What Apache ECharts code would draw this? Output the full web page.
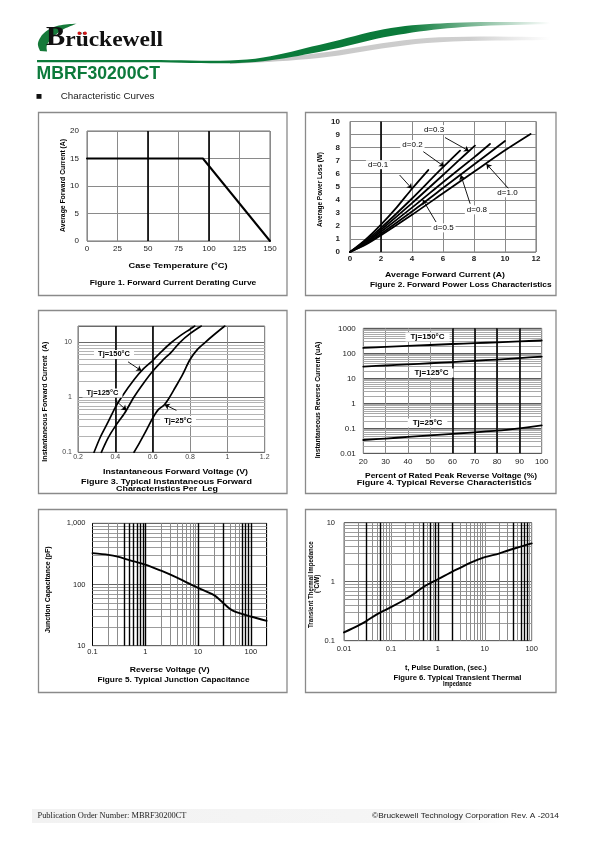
<!DOCTYPE html>
<html><head><meta charset="utf-8">
<script src="https://cdn.jsdelivr.net/npm/echarts@6/dist/echarts.min.js"></script>
<style>html,body{margin:0;padding:0;background:#fff}#c{width:595px;height:842px}</style>
</head><body><div id="c"></div>
<script>
// ================= DATA =================
// Figure 1 - Forward current derating curve
const fig1CaseTemp = [0, 95, 150];
const fig1AvgCurrent = [15, 15, 0];

// Figure 2 - Forward power loss characteristics  [A, W]
const fig2D01 = [[0,0],[1,0.95],[2,2.1],[3,3.4],[4,4.85],[5.05,6.28]];
const fig2D02 = [[0,0],[1,0.85],[2,1.85],[3,2.95],[4,4.1],[5,5.3],[6,6.5],[7.1,7.77]];
const fig2D03 = [[0,0],[1,0.75],[2,1.7],[4,3.75],[6,5.9],[7,7.0],[8.06,8.15]];
const fig2D05 = [[0,0],[1,0.7],[2,1.55],[4,3.4],[6,5.35],[8,7.25],[9.03,8.28]];
const fig2D08 = [[0,0],[1,0.62],[2,1.4],[4,3.1],[6,4.9],[8,6.7],[10,8.5]];
const fig2D10 = [[0,0],[1,0.55],[2,1.28],[4,2.85],[6,4.5],[8,6.15],[10,7.8],[11.65,9.05]];
const fig2LabelNames = ['d=0.1','d=0.2','d=0.3','d=0.5','d=0.8','d=1.0'];

// Figure 3 - Instantaneous forward characteristics [V, A]
const fig3Tj150 = [[0.286,0.1],[0.32,0.19],[0.36,0.35],[0.4,0.66],[0.432,1],[0.5,2.1],[0.55,3.3],[0.6,4.7],[0.65,7],[0.7,10],[0.75,13.5],[0.8,17.5],[0.825,20]];
const fig3Tj125 = [[0.325,0.1],[0.36,0.18],[0.4,0.3],[0.45,0.52],[0.5,1.02],[0.55,1.8],[0.6,3.0],[0.65,4.6],[0.7,6.7],[0.745,10],[0.8,14.5],[0.86,20]];
const fig3Tj25  = [[0.5,0.1],[0.53,0.15],[0.56,0.23],[0.6,0.42],[0.63,0.6],[0.66,0.72],[0.69,1.0],[0.72,1.5],[0.76,2.6],[0.8,4.9],[0.84,7.5],[0.88,10],[0.93,14],[0.986,20]];
const fig3YTickLabels = ['0.1','1','10'];

// Figure 4 - Reverse characteristics [% VRRM, uA]
const fig4Tj150 = [[20,165],[30,180],[40,197],[50,215],[60,235],[70,255],[80,275],[90,300],[100,325]];
const fig4Tj125 = [[20,29.5],[30,32.5],[40,36],[50,40],[60,44.5],[70,50],[80,56],[90,64],[100,74]];
const fig4Tj25  = [[20,0.034],[30,0.039],[40,0.045],[50,0.052],[60,0.06],[70,0.069],[80,0.08],[90,0.1],[100,0.13]];
const fig4YTickLabels = ['0.01','0.1','1','10','100','1000'];

// Figure 5 - Junction capacitance [V, pF]
const fig5Cap = [[0.1,325],[0.2,305],[0.3,285],[0.5,250],[1,211],[2,168],[3,145],[5,118],[10,88],[20,67],[30,50],[40,40],[50,36],[100,30],[200,25.5]];
const fig5XTickLabels = ['0.1','1','10','100'];
const fig5YTickLabels = ['10','100','1,000'];

// Figure 6 - Transient thermal impedance [s, C/W]
const fig6Zth = [[0.01,0.138],[0.02,0.18],[0.03,0.215],[0.05,0.28],[0.1,0.37],[0.2,0.5],[0.3,0.61],[0.5,0.82],[1,1.1],[2,1.47],[3,1.72],[5,2.1],[10,2.6],[20,3.0],[30,3.35],[50,3.8],[80,4.25],[100,4.45]];
const fig6XTickLabels = ['0.01','0.1','1','10','100'];
const fig6YTickLabels = ['0.1','1','10'];

// ================= LAYOUT / STYLE =================
const FONT = '"Liberation Sans", Arial, sans-serif';
const grids = [
  {left:87, top:131, width:183, height:110},
  {left:350, top:121.5, width:186, height:130.5},
  {left:78, top:326, width:186.7, height:126.3},
  {left:363.3, top:328.3, width:178.4, height:125},
  {left:92.5, top:523.3, width:174.2, height:122.4},
  {left:344, top:522.7, width:187.7, height:118}
];

const decadeLabel = (labels, minExp) => v => {
  const e = Math.log10(v), r = Math.round(e);
  if (Math.abs(e - r) > 1e-6) return '';
  const s = labels[r - minExp];
  return s === undefined ? '' : s;
};

function axis(gi, type, min, max, lbl, extra) {
  extra = extra || {};
  const a = {gridIndex: gi, type, min, max,
    axisLine:{show:false}, axisTick:{show:false},
    splitLine:{show:true, lineStyle:{color: extra.split || '#8a8a8a', width:1}},
    minorTick:{show:false}, minorSplitLine:{show:false},
    axisLabel:{interval:0, margin: lbl.margin, fontSize: lbl.size, fontWeight: lbl.weight || 'normal',
      color: lbl.color || '#222', fontFamily: FONT}};
  if (extra.interval) a.interval = extra.interval;
  if (type === 'log') a.logBase = 10;
  if (lbl.formatter) a.axisLabel.formatter = lbl.formatter;
  return a;
}

function minorVals(minExp, maxExp, limit) {
  const out = [];
  for (let e = minExp; e < maxExp; e++) for (let d = 2; d <= 9; d++) {
    const v = d * Math.pow(10, e);
    if (v < limit * 0.999) out.push(v);
  }
  return out;
}
const near = (a, b) => Math.abs(a - b) / Math.abs(b || 1) < 1e-6;

function lineItems(dir, vals, color, width) {
  return vals.map(v => ({[dir]: v, lineStyle:{color, width, type:'solid'}}));
}
function gridLayer(gi, items) {
  return {type:'line', xAxisIndex:gi, yAxisIndex:gi, data:[], silent:true, z:1,
    markLine:{z:1, silent:true, animation:false, symbol:['none','none'], label:{show:false},
      emphasis:{disabled:true}, data: items}};
}
function curve(gi, data, w, smooth) {
  return {type:'line', xAxisIndex:gi, yAxisIndex:gi, data, showSymbol:false, symbol:'none',
    smooth: smooth || false, lineStyle:{color:'#000', width:w, join:'round', cap:'round'}, z:6, silent:true};
}
function notes(gi, labels, arrows, font) {
  const s = {type:'line', xAxisIndex:gi, yAxisIndex:gi, data:[], silent:true, z:10,
    markPoint:{z:10, silent:true, symbol:'rect', symbolSize:1, itemStyle:{color:'rgba(0,0,0,0)'},
      label:{show:true, position:'inside', formatter:'{b}', color:'#000', fontFamily:FONT,
        fontSize:font.size, fontWeight:font.weight, backgroundColor:'#fff', padding:font.pad},
      data: labels.map(l => ({name:l.text, coord:l.at}))}};
  if (arrows && arrows.length) {
    s.markLine = {z:10, silent:true, symbol:['none','arrow'], symbolSize:5, label:{show:false},
      lineStyle:{color:'#000', width:0.9, type:'solid'},
      data: arrows.map(a => [{coord:a.from}, {coord:a.to}])};
  }
  return s;
}

// ---- gridline sets
const g1 = [].concat(lineItems('xAxis',[50,100],'#000',1.6));
const g2 = [].concat(lineItems('xAxis',[2],'#000',1.6));
const g3 = [].concat(lineItems('yAxis',minorVals(-1,2,20),'#b4b4b4',1), lineItems('xAxis',[0.4,0.6],'#000',1.6));
const g4 = [].concat(lineItems('yAxis',minorVals(-2,3,1000),'#a9a9a9',1), lineItems('xAxis',[60,70,80,90],'#000',1.6));
const fig5Bold = [0.4,0.5,0.6,0.7,0.8,0.9,1,10,30,70,80,90,100];
const fig6Bold = [0.03,0.06,0.5,0.7,0.9,1,2,40,60,70,80];
function vGrid(vals, bold, gray) {
  const items = [];
  vals.forEach(v => { if (!bold.some(b => near(v,b))) items.push({xAxis:v, lineStyle:{color:gray,width:1,type:'solid'}}); });
  bold.forEach(b => items.push({xAxis:b, lineStyle:{color:'#000',width:1.4,type:'solid'}}));
  return items;
}
const g5 = [].concat(lineItems('yAxis',minorVals(1,3,1000),'#9c9c9c',1), vGrid(minorVals(-1,3,200),fig5Bold,'#8c8c8c'));
const g6 = [].concat(lineItems('yAxis',minorVals(-1,1,10),'#9c9c9c',1), vGrid(minorVals(-2,2,100),fig6Bold,'#8c8c8c'));

// ---- annotations (data coordinates)
const fig2Notes = [
  {text:fig2LabelNames[0], at:[1.81,6.69]}, {text:fig2LabelNames[1], at:[4.03,8.23]},
  {text:fig2LabelNames[2], at:[5.42,9.38]}, {text:fig2LabelNames[3], at:[6.03,1.85]},
  {text:fig2LabelNames[4], at:[8.19,3.23]}, {text:fig2LabelNames[5], at:[10.16,4.54]}];
const fig2Arrows = [
  {from:[3.2,5.9], to:[4.0,4.85]}, {from:[4.73,7.69], to:[6.08,6.55]},
  {from:[6.13,8.77], to:[7.68,7.74]}, {from:[5.55,2.3], to:[4.7,4.0]},
  {from:[7.75,3.7], to:[7.15,5.9]}, {from:[10.26,4.82], to:[8.8,6.75]}];
const fig3Notes = [{text:'Tj=150°C', at:[0.393,6.07]}, {text:'Tj=125°C', at:[0.331,1.2]}, {text:'Tj=25°C', at:[0.736,0.38]}];
const fig3Arrows = [{from:[0.468,4.45], to:[0.54,3.05]}, {from:[0.40,0.89], to:[0.46,0.58]}, {from:[0.727,0.58], to:[0.664,0.74]}];
const fig4Notes = [{text:'Tj=150°C', at:[48.8,449]}, {text:'Tj=125°C', at:[50.6,16.3]}, {text:'Tj=25°C', at:[48.8,0.163]}];

// ---- text helpers
const mctx = document.createElement('canvas').getContext('2d');
function measure(text, size, weight, family) { mctx.font = weight + ' ' + size + 'px "' + family + '"'; return mctx.measureText(text).width; }
function txt(text, x, y, size, weight, targetW, o) {
  o = o || {};
  const family = o.family || 'Liberation Sans';
  const w = measure(text, size, weight, family);
  return {type:'text', x, y, rotation: o.rot || 0, scaleX: targetW ? targetW / w : 1, silent:true, z:20,
    style:{text, fontSize:size, fontWeight:weight, fontFamily:family, fill:o.color || '#000',
      align:o.align || 'center', verticalAlign:'middle'}};
}
const ROT = Math.PI / 2;

function spline(pts, n) {
  n = n || 10; const out = [];
  for (let i = 0; i < pts.length - 1; i++) {
    const p0 = pts[Math.max(i-1,0)], p1 = pts[i], p2 = pts[i+1], p3 = pts[Math.min(i+2,pts.length-1)];
    for (let k = 0; k < n; k++) {
      const t = k/n, t2 = t*t, t3 = t2*t;
      const f = j => 0.5*((2*p1[j]) + (-p0[j]+p2[j])*t + (2*p0[j]-5*p1[j]+4*p2[j]-p3[j])*t2 + (-p0[j]+3*p1[j]-3*p2[j]+p3[j])*t3);
      out.push([f(0), f(1)]);
    }
  }
  out.push(pts[pts.length-1]);
  return out;
}
const LG = echarts.graphic.LinearGradient;

// ---- header / footer
const greenUpper = [[37,60],[150,60],[247,59.5],[319,45],[391,28],[463,22.5],[550,22]];
const greenLower = [[550,24],[463,27],[391,36],[319,52],[247,62.5],[150,62.3],[37,62.3]];
const grayUpper = [[230,62.5],[319,53],[427,38],[550,37]];
const grayLower = [[550,40],[427,43],[319,58],[230,64]];
const leafOuter = [[40,51],[38,43],[44,33],[57,26],[77,23.5]];
const leafInner = [[77,23.5],[63,29.5],[53,37],[47,45],[47,51.5]];

const SERIF = 'Liberation Serif';
const wB = measure('B',27,'bold',SERIF), wRest = measure('rückewell',22,'bold',SERIF);
const brandSX = 117 / (wB + wRest);
const uCenter = 46 + brandSX * (wB + measure('r',22,'bold',SERIF) + measure('u',22,'bold',SERIF)/2);

const rightFoot = '©Bruckewell Technology Corporation Rev. A -2014';

const elements = [
  {type:'polygon', silent:true, z:2, shape:{points: spline(greenUpper).concat(spline(greenLower))},
    style:{fill: new LG(37,0,550,0,[{offset:0,color:'#0b7a3a'},{offset:0.72,color:'#0b7a3a'},{offset:1,color:'rgba(11,122,58,0)'}],true)}},
  {type:'polygon', silent:true, z:1, shape:{points: spline(grayUpper).concat(spline(grayLower))},
    style:{fill: new LG(230,0,550,0,[{offset:0,color:'#c6c6c6'},{offset:0.75,color:'#cfcfcf'},{offset:1,color:'rgba(210,210,210,0)'}],true)}},
  {type:'polygon', silent:true, z:2, shape:{points: spline(leafOuter).concat(spline(leafInner))}, style:{fill:'#167a3a'}},
  {type:'text', x:46, y:51.5, scaleX:brandSX, silent:true, z:3,
    style:{text:'{a|B}{b|rückewell}', align:'left', verticalAlign:'bottom',
      rich:{a:{fontSize:27, fontWeight:'bold', fontFamily:SERIF, fill:'#111', verticalAlign:'bottom', lineHeight:27},
            b:{fontSize:22, fontWeight:'bold', fontFamily:SERIF, fill:'#111', verticalAlign:'bottom', lineHeight:22}}}},
  {type:'circle', silent:true, z:4, shape:{cx:uCenter-2.9, cy:33.3, r:1.8}, style:{fill:'#d01818'}},
  {type:'circle', silent:true, z:4, shape:{cx:uCenter+2.9, cy:33.3, r:1.8}, style:{fill:'#d01818'}},
  txt('MBRF30200CT', 36.5, 74.2, 17.5, 'bold', 123.5, {align:'left', color:'#0c7a3b'}),
  {type:'rect', silent:true, shape:{x:36.5, y:94, width:5, height:4.8}, style:{fill:'#111'}},
  txt('Characteristic Curves', 60.7, 96.4, 9.5, 'normal', 93.8, {align:'left', color:'#222'}),
  // footer
  {type:'rect', silent:true, z:0, shape:{x:32, y:809, width:500, height:14},
    style:{fill: new LG(32,0,532,0,[{offset:0,color:'#f2f2f2'},{offset:0.85,color:'#f6f6f6'},{offset:1,color:'rgba(255,255,255,0)'}],true)}},
  txt('Publication Order Number: MBRF30200CT', 37.5, 816, 8, 'normal', 149, {align:'left', family:SERIF, color:'#222'}),
  txt(rightFoot, 372, 816, 7.4, 'normal', 187, {align:'left', color:'#222'})
];

// panels
[[38.5,112.5],[305.5,112.5],[38.5,310.5],[305.5,310.5],[38.5,509.5],[305.5,509.5]].forEach((p,i) => {
  elements.push({type:'rect', silent:true, z:0, shape:{x:p[0], y:p[1], width: i%2 ? 250.5 : 248.5, height:183},
    style:{fill:'none', stroke:'#8a8a8a', lineWidth:1.3}});
});

// chart titles & captions
elements.push(
  txt('Case Temperature (°C)', 178, 265.3, 8, 'bold', 99),
  txt('Figure 1. Forward Current Derating Curve', 173, 282.7, 7.5, 'bold', 166.6),
  txt('Average Forward Current (A)', 63, 185.5, 7.5, 'bold', 93, {rot:ROT}),

  txt('Average Forward Current (A)', 445, 274.7, 8, 'bold', 120),
  txt('Figure 2. Forward Power Loss Characteristics', 460.8, 285.3, 7.5, 'bold', 181.7),
  txt('Average Power Loss (W)', 320, 189.5, 7.5, 'bold', 75, {rot:ROT}),

  txt('Instantaneous Forward Voltage (V)', 175.5, 471.7, 8, 'bold', 145),
  txt('Figure 3. Typical Instantaneous Forward', 166.5, 481.7, 7.5, 'bold', 171),
  txt('Characteristics Per  Leg', 167, 489, 7.5, 'bold', 102),
  txt('Instantaneous Forward Current  (A)', 45.3, 401.7, 7.5, 'bold', 120, {rot:ROT}),

  txt('Percent of Rated Peak Reverse Voltage (%)', 451, 475.7, 8, 'bold', 172),
  txt('Figure 4. Typical Reverse Characteristics', 444.2, 483.3, 7.5, 'bold', 175),
  txt('Instantaneous Reverse Current (uA)', 318, 400, 7.5, 'bold', 116.7, {rot:ROT}),

  txt('Reverse Voltage (V)', 169.7, 669.7, 8, 'bold', 80),
  txt('Figure 5. Typical Junction Capacitance', 173.5, 680.3, 7.5, 'bold', 152),
  txt('Junction Capacitance (pF)', 48, 589.7, 7.5, 'bold', 86.7, {rot:ROT}),

  txt('t, Pulse Duration, (sec.)', 445.8, 667.3, 8, 'bold', 81.7),
  txt('Figure 6. Typical Transient Thermal', 457.5, 678.2, 7, 'bold', 128),
  txt('Impedance', 457.3, 684.3, 7, 'bold', 28.7),
  txt('Transient Thermal Impedance', 311, 584.7, 6.5, 'bold', 86.7, {rot:ROT}),
  txt('(°C/W)', 317.7, 583.8, 6.5, 'bold', 18.3, {rot:ROT})
);

// ================= OPTION =================
const zip = (a, b) => a.map((v, i) => [v, b[i]]);
const option = {
  animation:false,
  backgroundColor:'#fff',
  grid: grids.map(g => Object.assign({show:true, borderColor:'#707070', borderWidth:1,
    backgroundColor:'rgba(0,0,0,0)', containLabel:false, outerBoundsMode:'none'}, g)),
  xAxis: [
    axis(0,'value',0,150,{size:8,margin:4},{interval:25}),
    axis(1,'value',0,12,{size:8,margin:3,weight:'bold'},{interval:2}),
    axis(2,'value',0.2,1.2,{size:7,margin:1.5,color:'#444'},{interval:0.2}),
    axis(3,'value',20,100,{size:8,margin:4.5},{interval:10}),
    axis(4,'log',0.1,200,{size:7.5,margin:2,formatter:decadeLabel(fig5XTickLabels,-1)},{split:'#000'}),
    axis(5,'log',0.01,100,{size:7.5,margin:4,formatter:decadeLabel(fig6XTickLabels,-2)},{split:'#8c8c8c'})
  ],
  yAxis: [
    axis(0,'value',0,20,{size:8,margin:8},{interval:5}),
    axis(1,'value',0,10,{size:8,margin:10,weight:'bold'},{interval:1}),
    axis(2,'log',0.1,20,{size:7,margin:6,color:'#444',formatter:decadeLabel(fig3YTickLabels,-1)},{split:'#6a6a6a'}),
    axis(3,'log',0.01,1000,{size:8,margin:7.5,formatter:decadeLabel(fig4YTickLabels,-2)},{split:'#5a5a5a'}),
    axis(4,'log',10,1000,{size:7.5,margin:7,formatter:decadeLabel(fig5YTickLabels,1)},{split:'#666'}),
    axis(5,'log',0.1,10,{size:7.5,margin:9,formatter:decadeLabel(fig6YTickLabels,-1)},{split:'#666'})
  ],
  series: [
    gridLayer(0,g1), gridLayer(1,g2), gridLayer(2,g3), gridLayer(3,g4), gridLayer(4,g5), gridLayer(5,g6),
    curve(0, zip(fig1CaseTemp, fig1AvgCurrent), 2),
    curve(1, fig2D01, 1.8, 0.25), curve(1, fig2D02, 1.8, 0.25), curve(1, fig2D03, 1.8, 0.25),
    curve(1, fig2D05, 1.8, 0.25), curve(1, fig2D08, 1.8, 0.25), curve(1, fig2D10, 1.8, 0.25),
    curve(2, fig3Tj150, 1.7, 0.3), curve(2, fig3Tj125, 1.7, 0.3), curve(2, fig3Tj25, 1.7, 0.3),
    curve(3, fig4Tj150, 1.8, 0.3), curve(3, fig4Tj125, 1.8, 0.3), curve(3, fig4Tj25, 1.8, 0.3),
    curve(4, fig5Cap, 1.9, 0.3),
    curve(5, fig6Zth, 1.9, 0.3),
    notes(1, fig2Notes, fig2Arrows, {size:8, weight:'normal', pad:[1,2,0,2]}),
    notes(2, fig3Notes, fig3Arrows, {size:7.5, weight:'bold', pad:[1,4,0,4]}),
    notes(3, fig4Notes, [], {size:8, weight:'bold', pad:[1,5,0,5]})
  ],
  graphic: {elements}
};
const chart = echarts.init(document.getElementById('c'), null, {renderer:'canvas'});
chart.setOption(option);
</script>
</body></html>
